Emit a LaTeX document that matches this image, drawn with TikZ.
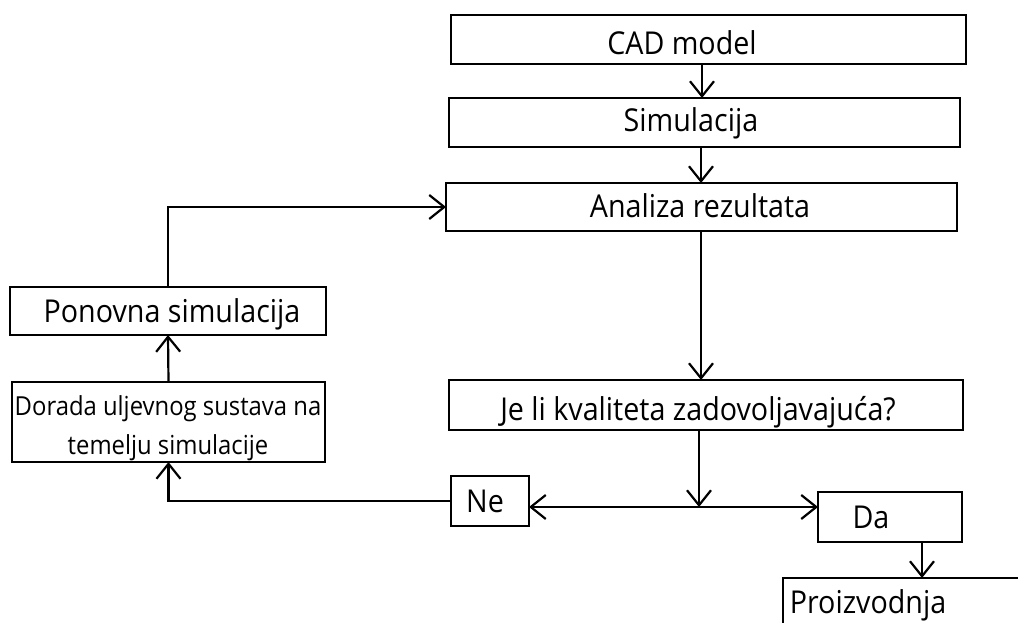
\documentclass[tikz,border=0pt]{standalone}
\usepackage{fontspec}
\setmainfont{Open Sans}[FakeStretch=0.91]
\usetikzlibrary{arrows.meta}
\begin{document}
\begin{tikzpicture}[x=1pt,y=-1pt,
  box/.style={draw,line width=2.6pt,inner sep=0pt,outer sep=0pt,fill=none},
  txt/.style={anchor=base,inner sep=0pt,font=\fontsize{31.5}{37}\selectfont},
  smalltxt/.style={anchor=base,inner sep=0pt,align=center,font=\fontsize{26.2}{39}\selectfont},
  conn/.style={line width=2.2pt,-{Straight Barb[length=15pt,width=24pt,line width=2.2pt]}}]
\useasboundingbox (0,0) rectangle (1018,623);
% boxes
\node[box,minimum width=515pt,minimum height=49pt] (cad) at (708.5,39.5) {};
\node[box,minimum width=511pt,minimum height=49pt] (sim) at (704.5,122.5) {};
\node[box,minimum width=511pt,minimum height=48pt] (ana) at (701.5,207) {};
\node[box,minimum width=514pt,minimum height=50pt] (jeli) at (706,405) {};
\node[box,minimum width=78pt,minimum height=50pt] (ne) at (490,501) {};
\node[box,minimum width=144pt,minimum height=50pt] (da) at (890,517) {};
\node[box,minimum width=257pt,minimum height=72pt] (prz) at (911.5,614) {};
\node[box,minimum width=316pt,minimum height=48pt] (pon) at (168,311) {};
\node[box,minimum width=313pt,minimum height=80pt] (dor) at (168.5,422) {};
% texts
\node[txt] (tcad) at (682,55) {CAD model};
\node[txt] (tsim) at (691,132) {Simulacija};
\node[txt] (tana) at (700,218) {Analiza rezultata};
\node[txt] (tjeli) at (698,420) {Je li kvaliteta zadovoljavajuća?};
\node[txt] (tne) at (485,512) {Ne};
\node[txt] (tda) at (871,528) {Da};
\node[txt] (tprz) at (868,613) {Proizvodnja};
\node[txt] (tpon) at (172,322) {Ponovna simulacija};
\node[smalltxt] (tdor) at (168,454) {Dorada uljevnog sustava na\\temelju simulacije};
% connectors
\coordinate (j) at (699,507);
\draw[conn] ([xshift=-6.5pt]cad.south) -- ([xshift=-6.5pt]cad.south |- sim.north);
\draw[conn] ([xshift=-3.5pt]sim.south) -- ([xshift=-3.5pt]sim.south |- ana.north);
\draw[conn] ([xshift=-0.5pt]ana.south) -- ([xshift=-0.5pt]ana.south |- jeli.north);
\draw[conn] (pon.north) |- (ana.west);
\draw[conn] (dor.north) -- (pon.south);
\draw[conn] ([xshift=-7pt]jeli.south) -- (j);
\draw[conn] (j) -- (ne.east |- j);
\draw[conn] (j) -- (da.west |- j);
\draw[conn] (ne.west) -| (dor.south);
\draw[conn] ([xshift=32pt]da.south) -- ([xshift=32pt]da.south |- prz.north);
\end{tikzpicture}
\end{document}
